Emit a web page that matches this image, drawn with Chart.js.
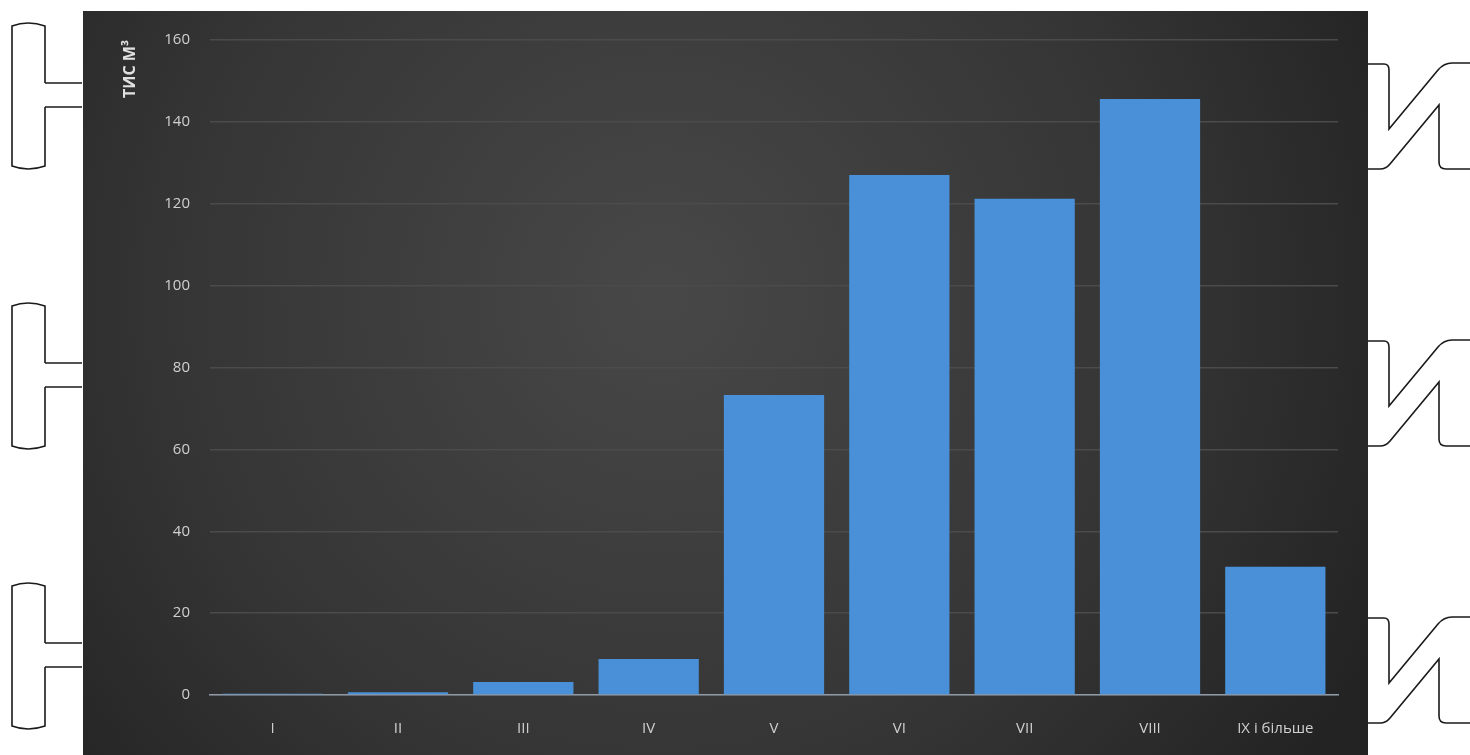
<!DOCTYPE html>
<html>
<head>
<meta charset="utf-8">
<script src="https://cdn.jsdelivr.net/npm/chart.js@4.4.0/dist/chart.umd.min.js"></script>
<style>
  html, body { margin: 0; padding: 0; background: #fff; }
  body { width: 1470px; height: 755px; position: relative; overflow: hidden; }
  #wrap { position: absolute; left: 83px; top: 11px; width: 1285px; height: 744px; }
  #deco { position: absolute; left: 0; top: 0; }
</style>
</head>
<body>
<svg id="deco" width="1470" height="755" fill="none" stroke="#1a1a1a" stroke-width="1.6">
  <g id="lb">
    <path d="M45 83 L82 83 M45 107 L82 107"/>
    <path d="M45 83 L45 26 Q28 20 12 26 L12 166 Q28 172 45 166 L45 107"/>
  </g>
  <use href="#lb" y="280"/>
  <use href="#lb" y="560"/>
  <g id="rb">
    <path d="M1368 64 L1384 64 Q1389 64 1389 70 L1389 129 L1438 70 Q1444 63 1452 63 L1470 63"/>
    <path d="M1368 169 L1380 169 Q1386 169 1390 164 L1439 105 L1439 162 Q1439 169 1446 169 L1470 169"/>
  </g>
  <use href="#rb" y="277"/>
  <use href="#rb" y="554"/>
</svg>
<div id="wrap"><canvas id="myChart"></canvas></div>
<script>
var categories = ['I', 'II', 'III', 'IV', 'V', 'VI', 'VII', 'VIII', 'IX і більше']
var volumes = [0.3, 0.7, 3.2, 8.8, 73.3, 127.0, 121.2, 145.6, 31.3]
var yTicks = [0, 20, 40, 60, 80, 100, 120, 140, 160]

// темный фон с радиальным градиентом
var bgPlugin = {
  id: 'bg',
  beforeDraw: function(chart) {
    var c = chart.ctx
    var w = chart.width, h = chart.height
    var g = c.createRadialGradient(w * 0.45, h * 0.38, 20, w * 0.45, h * 0.38, w * 0.62)
    g.addColorStop(0, '#474747')
    g.addColorStop(0.6, '#353535')
    g.addColorStop(1, '#232323')
    c.save()
    c.fillStyle = g
    c.fillRect(0, 0, w, h)
    c.restore()
  }
}

var ctx = document.getElementById('myChart').getContext('2d')
var myChart = new Chart(ctx, {
  type: 'bar',
  data: {
    labels: categories,
    datasets: [{
      data: volumes,
      backgroundColor: '#4a90d9',
      borderWidth: 0,
      categoryPercentage: 0.8,
      barPercentage: 1.0
    }]
  },
  options: {
    responsive: true,
    maintainAspectRatio: false,
    animation: false,
    layout: { padding: { left: 38, right: 30, top: 29, bottom: 0 } },
    plugins: { legend: { display: false }, tooltip: { enabled: false } },
    scales: {
      x: {
        grid: { display: false, drawTicks: false },
        border: { display: true, color: '#8f9aa6', width: 1.5 },
        ticks: { color: '#d0d0d0', padding: 25, font: { family: 'Open Sans', size: 15 } },
        afterFit: function(s) { s.height = 60 }
      },
      y: {
        min: 0,
        max: 160,
        afterBuildTicks: function(s) { s.ticks = yTicks.map(function(v) { return { value: v } }) },
        grid: { color: '#4b4b4b', lineWidth: 1.5, drawTicks: false },
        border: { display: false },
        ticks: { color: '#d0d0d0', padding: 20, font: { family: 'Open Sans', size: 15 } },
        title: {
          display: true,
          text: 'ТИС М³',
          align: 'end',
          color: '#e0e0e0',
          padding: { top: 0, bottom: 0 },
          font: { family: 'Open Sans', size: 16, weight: 'bold' }
        },
        afterFit: function(s) { s.width = 89 }
      }
    }
  },
  plugins: [bgPlugin]
})
</script>
</body>
</html>
